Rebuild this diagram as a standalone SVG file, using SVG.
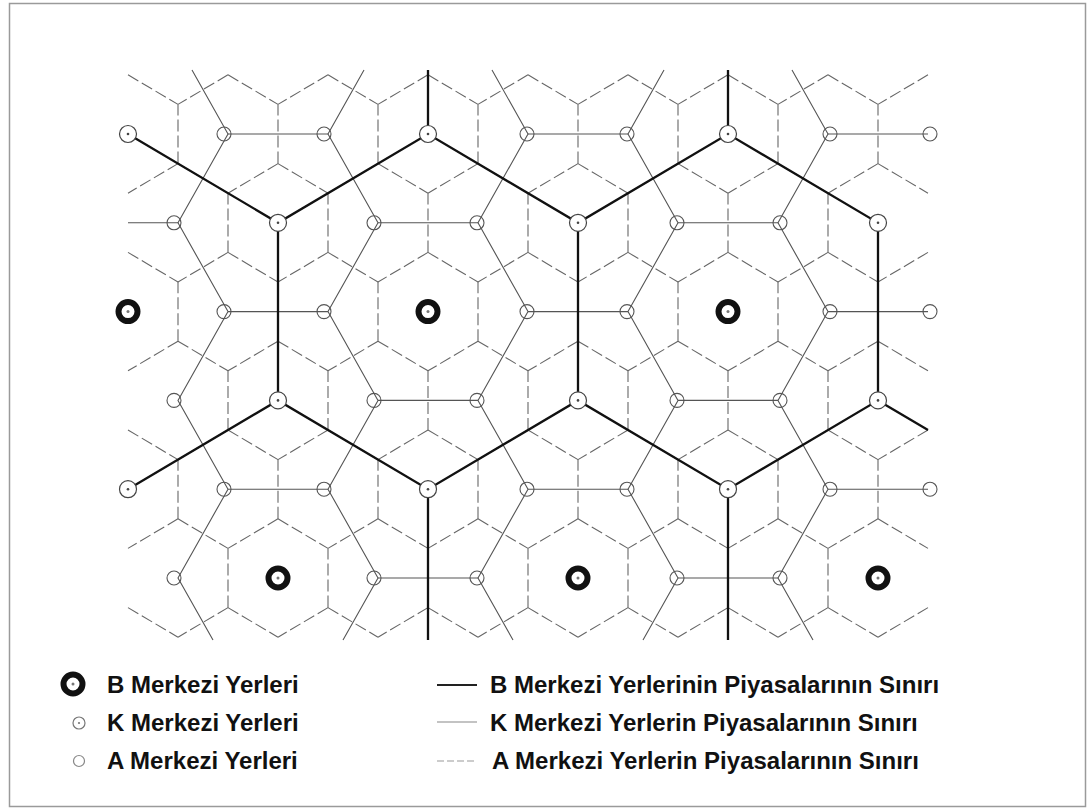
<svg xmlns="http://www.w3.org/2000/svg" width="1088" height="809" viewBox="0 0 1088 809">
<style>
.dash{fill:none;stroke:#666;stroke-width:1.1;stroke-dasharray:12 4}
.thin{fill:none;stroke:#555;stroke-width:1.1}
.thick{fill:none;stroke:#111;stroke-width:2.3;stroke-linejoin:miter}
.lbl{font-family:"Liberation Sans",Arial,sans-serif;font-size:24px;font-weight:bold;fill:#111}
</style>
<defs>
<path id="tY" class="dash" d="M0,0V-59.2M0,0L-50,29.6M0,0L50,29.6"/>
<path id="tV" class="dash" d="M0,0L-50,29.6M0,0L50,29.6"/>
<path id="tR" class="dash" d="M0,0L50,29.6"/>
<path id="tL" class="dash" d="M0,0L-50,29.6"/>
<g id="symB"><circle r="9.5" fill="#fff" stroke="#111" stroke-width="6"/><circle r="1.5" fill="#777"/></g>
<g id="symK"><circle r="8.5" fill="#fff" stroke="#444" stroke-width="1.2"/><circle r="1.3" fill="#444"/></g>
<g id="symA"><circle r="7" fill="none" stroke="#555" stroke-width="1.1"/></g>
</defs>
<rect x="9.5" y="3.5" width="1076" height="803" fill="#fff" stroke="#9a9a9a" stroke-width="1.5"/>

<g id="connectors">
<g id="a-boundaries">
<use href="#tR" x="128" y="74.8"/><use href="#tV" x="228" y="74.8"/><use href="#tV" x="328" y="74.8"/><use href="#tV" x="428" y="74.8"/><use href="#tV" x="528" y="74.8"/><use href="#tV" x="628" y="74.8"/><use href="#tV" x="728" y="74.8"/><use href="#tV" x="828" y="74.8"/><use href="#tL" x="928" y="74.8"/>
<use href="#tY" x="178" y="163.6"/><use href="#tY" x="278" y="163.6"/><use href="#tY" x="378" y="163.6"/><use href="#tY" x="478" y="163.6"/><use href="#tY" x="578" y="163.6"/><use href="#tY" x="678" y="163.6"/><use href="#tY" x="778" y="163.6"/><use href="#tY" x="878" y="163.6"/>
<use href="#tR" x="128" y="252.4"/><use href="#tY" x="228" y="252.4"/><use href="#tY" x="328" y="252.4"/><use href="#tY" x="428" y="252.4"/><use href="#tY" x="528" y="252.4"/><use href="#tY" x="628" y="252.4"/><use href="#tY" x="728" y="252.4"/><use href="#tY" x="828" y="252.4"/><use href="#tL" x="928" y="252.4"/>
<use href="#tY" x="178" y="341.2"/><use href="#tY" x="278" y="341.2"/><use href="#tY" x="378" y="341.2"/><use href="#tY" x="478" y="341.2"/><use href="#tY" x="578" y="341.2"/><use href="#tY" x="678" y="341.2"/><use href="#tY" x="778" y="341.2"/><use href="#tY" x="878" y="341.2"/>
<use href="#tR" x="128" y="430"/><use href="#tY" x="228" y="430"/><use href="#tY" x="328" y="430"/><use href="#tY" x="428" y="430"/><use href="#tY" x="528" y="430"/><use href="#tY" x="628" y="430"/><use href="#tY" x="728" y="430"/><use href="#tY" x="828" y="430"/><use href="#tL" x="928" y="430"/>
<use href="#tY" x="178" y="518.8"/><use href="#tY" x="278" y="518.8"/><use href="#tY" x="378" y="518.8"/><use href="#tY" x="478" y="518.8"/><use href="#tY" x="578" y="518.8"/><use href="#tY" x="678" y="518.8"/><use href="#tY" x="778" y="518.8"/><use href="#tY" x="878" y="518.8"/>
<use href="#tR" x="128" y="607.6"/><use href="#tY" x="228" y="607.6"/><use href="#tY" x="328" y="607.6"/><use href="#tY" x="428" y="607.6"/><use href="#tY" x="528" y="607.6"/><use href="#tY" x="628" y="607.6"/><use href="#tY" x="728" y="607.6"/><use href="#tY" x="828" y="607.6"/><use href="#tL" x="928" y="607.6"/>
</g>
<g id="k-boundaries">
<path class="thin" d="M228,134H328M528,134H628M828,134H928M128,222.8H178M378,222.8H478M678,222.8H778M228,311.6H328M528,311.6H628M828,311.6H928M378,400.4H478M678,400.4H778M228,489.2H328M528,489.2H628M828,489.2H928M378,578H478M678,578H778"/>
<path class="thin" d="M192,70L228,134L178,222.8L228,311.6L178,400.4L228,489.2L178,578L213,640"/>
<path class="thin" d="M364,70L328,134L378,222.8L328,311.6L378,400.4L328,489.2L378,578L343,640"/>
<path class="thin" d="M492,70L528,134L478,222.8L528,311.6L478,400.4L528,489.2L478,578L513,640"/>
<path class="thin" d="M664,70L628,134L678,222.8L628,311.6L678,400.4L628,489.2L678,578L643,640"/>
<path class="thin" d="M792,70L828,134L778,222.8L828,311.6L778,400.4L828,489.2L778,578L813,640"/>
</g>
<g id="b-boundaries">
<path class="thick" d="M128,134L278,222.8L428,134L578,222.8L728,134L878,222.8V400.4L728,489.2L578,400.4L428,489.2L278,400.4L128,489.2"/>
<path class="thick" d="M428,70V134M728,70V134M278,222.8V400.4M578,222.8V400.4M878,400.4L928,430M428,489.2V640M728,489.2V640"/>
</g>
</g>

<g id="nodes">
<g id="b-1"><use href="#symB" x="128" y="311.6"/></g>
<g id="b-2"><use href="#symB" x="428" y="311.6"/></g>
<g id="b-3"><use href="#symB" x="728" y="311.6"/></g>
<g id="b-4"><use href="#symB" x="278" y="578"/></g>
<g id="b-5"><use href="#symB" x="578" y="578"/></g>
<g id="b-6"><use href="#symB" x="878" y="578"/></g>

<g id="k-1"><use href="#symK" x="128" y="134"/></g>
<g id="k-2"><use href="#symK" x="428" y="134"/></g>
<g id="k-3"><use href="#symK" x="728" y="134"/></g>
<g id="k-4"><use href="#symK" x="278" y="222.8"/></g>
<g id="k-5"><use href="#symK" x="578" y="222.8"/></g>
<g id="k-6"><use href="#symK" x="878" y="222.8"/></g>
<g id="k-7"><use href="#symK" x="278" y="400.4"/></g>
<g id="k-8"><use href="#symK" x="578" y="400.4"/></g>
<g id="k-9"><use href="#symK" x="878" y="400.4"/></g>
<g id="k-10"><use href="#symK" x="128" y="489.2"/></g>
<g id="k-11"><use href="#symK" x="428" y="489.2"/></g>
<g id="k-12"><use href="#symK" x="728" y="489.2"/></g>

<g id="a-r0-1"><use href="#symA" x="224" y="134"/></g>
<g id="a-r0-2"><use href="#symA" x="324" y="134"/></g>
<g id="a-r0-3"><use href="#symA" x="527" y="134"/></g>
<g id="a-r0-4"><use href="#symA" x="627" y="134"/></g>
<g id="a-r0-5"><use href="#symA" x="830" y="134"/></g>
<g id="a-r0-6"><use href="#symA" x="930" y="134"/></g>
<g id="a-r1-1"><use href="#symA" x="174" y="222.8"/></g>
<g id="a-r1-2"><use href="#symA" x="374" y="222.8"/></g>
<g id="a-r1-3"><use href="#symA" x="477" y="222.8"/></g>
<g id="a-r1-4"><use href="#symA" x="677" y="222.8"/></g>
<g id="a-r1-5"><use href="#symA" x="780" y="222.8"/></g>
<g id="a-r2-1"><use href="#symA" x="224" y="311.6"/></g>
<g id="a-r2-2"><use href="#symA" x="324" y="311.6"/></g>
<g id="a-r2-3"><use href="#symA" x="527" y="311.6"/></g>
<g id="a-r2-4"><use href="#symA" x="627" y="311.6"/></g>
<g id="a-r2-5"><use href="#symA" x="830" y="311.6"/></g>
<g id="a-r2-6"><use href="#symA" x="930" y="311.6"/></g>
<g id="a-r3-1"><use href="#symA" x="174" y="400.4"/></g>
<g id="a-r3-2"><use href="#symA" x="374" y="400.4"/></g>
<g id="a-r3-3"><use href="#symA" x="477" y="400.4"/></g>
<g id="a-r3-4"><use href="#symA" x="677" y="400.4"/></g>
<g id="a-r3-5"><use href="#symA" x="780" y="400.4"/></g>
<g id="a-r4-1"><use href="#symA" x="224" y="489.2"/></g>
<g id="a-r4-2"><use href="#symA" x="324" y="489.2"/></g>
<g id="a-r4-3"><use href="#symA" x="527" y="489.2"/></g>
<g id="a-r4-4"><use href="#symA" x="627" y="489.2"/></g>
<g id="a-r4-5"><use href="#symA" x="830" y="489.2"/></g>
<g id="a-r4-6"><use href="#symA" x="930" y="489.2"/></g>
<g id="a-r5-1"><use href="#symA" x="174" y="578"/></g>
<g id="a-r5-2"><use href="#symA" x="374" y="578"/></g>
<g id="a-r5-3"><use href="#symA" x="477" y="578"/></g>
<g id="a-r5-4"><use href="#symA" x="677" y="578"/></g>
<g id="a-r5-5"><use href="#symA" x="780" y="578"/></g>
</g>

<g id="legend">
<g id="legend-b"><use href="#symB" x="73" y="684"/><text class="lbl" x="107" y="693">B Merkezi Yerleri</text></g>
<g id="legend-k"><circle cx="79" cy="723" r="6" fill="#fff" stroke="#777" stroke-width="1.2"/><circle cx="79" cy="723" r="1.1" fill="#777"/><text class="lbl" x="107" y="731">K Merkezi Yerleri</text></g>
<g id="legend-a"><circle cx="79" cy="761" r="5.5" fill="#fff" stroke="#888" stroke-width="1.2"/><text class="lbl" x="107" y="769">A Merkezi Yerleri</text></g>
<g id="legend-bl"><line x1="437" y1="685" x2="477" y2="685" stroke="#222" stroke-width="2"/><text class="lbl" x="490" y="693">B Merkezi Yerlerinin Piyasalarının Sınırı</text></g>
<g id="legend-kl"><line x1="437" y1="722" x2="477" y2="722" stroke="#888" stroke-width="1.2"/><text class="lbl" x="490" y="731">K Merkezi Yerlerin Piyasalarının Sınırı</text></g>
<g id="legend-al"><line x1="437" y1="761" x2="477" y2="761" stroke="#999" stroke-width="1.2" stroke-dasharray="7 3"/><text class="lbl" x="492" y="769">A Merkezi Yerlerin Piyasalarının Sınırı</text></g>
</g>
</svg>
